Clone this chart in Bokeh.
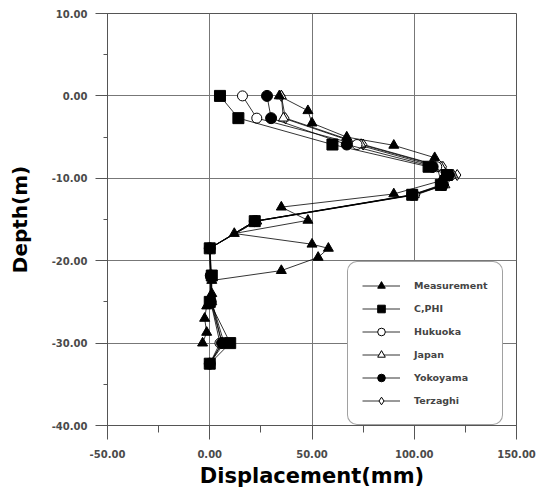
from bokeh.plotting import figure
from bokeh.models import Range1d, SingleIntervalTicker, PrintfTickFormatter, Legend, LegendItem
from bokeh.embed import file_html
from bokeh.resources import INLINE

# Measured profile
meas_depth = [0.0, -1.8, -3.3, -5.0, -6.0, -7.5, -10.3, -11.9, -13.5, -15.1, -16.7,
              -18.0, -18.5, -19.6, -21.2, -22.4, -24.0, -25.5, -27.0, -28.7, -30.0]
meas_disp = [34, 48, 50, 67, 90, 110, 113, 90, 35, 48, 12,
             50, 58, 53, 35, 1, 1, -1.5, -2.5, -1.5, -3.5]

# Computed profiles (common depths)
calc_depth = [0.0, -2.7, -5.9, -8.6, -9.6, -10.8, -12.0, -15.2, -18.5, -21.8, -25.0, -30.0, -32.5]
cphi = [5, 14, 60, 107, 116, 113, 99, 22, 0, 1, 0, 10, 0]
hukuoka = [16, 23, 72, 111, 118, 114, 100, 22, 0, 0.5, 0.5, 5, 0]
japan = [35, 36, 74, 113, 119, 115, 100, 23, 0, 0.5, 1, 6, 0]
yokoyama = [28, 30, 67, 109, 117, 114, 99, 22, 0, 0.5, 0.5, 6, 0]
terzaghi = [35, 37, 75, 114, 121, 115, 101, 23, 0, 0.5, 1, 7, 0]

x_ticks_interval = 50
y_ticks_interval = 10

p = figure(width=538, height=490, x_range=Range1d(-50, 150), y_range=Range1d(-40, 10),
           output_backend="svg", toolbar_location=None,
           min_border_left=107, min_border_right=22, min_border_top=13, min_border_bottom=64)

p.outline_line_color = "#555555"
p.background_fill_color = "white"

for ax, iv in ((p.xaxis, x_ticks_interval), (p.yaxis, y_ticks_interval)):
    ax.ticker = SingleIntervalTicker(interval=iv, num_minor_ticks=2)
    ax.formatter = PrintfTickFormatter(format="%.2f")
    ax.major_label_text_font = "DejaVu Sans"
    ax.major_label_text_font_style = "bold"
    ax.major_label_text_font_size = "10px"
    ax.major_label_text_color = "#4a4a4a"
    ax.axis_line_color = "#555555"
    ax.major_tick_line_color = "#555555"
    ax.minor_tick_line_color = "#555555"
    ax.major_tick_in = 0
    ax.minor_tick_in = 0
    ax.axis_label_text_font = "DejaVu Sans"
    ax.axis_label_text_font_style = "bold"
    ax.axis_label_text_color = "black"

p.xaxis.major_tick_out = 14
p.xaxis.minor_tick_out = 7
p.xaxis.major_label_standoff = 10
p.xaxis.axis_label = "Displacement(mm)"
p.xaxis.axis_label_text_font_size = "21px"
p.xaxis.axis_label_standoff = 3

p.yaxis.major_tick_out = 12
p.yaxis.minor_tick_out = 4
p.yaxis.major_label_standoff = 8
p.yaxis.axis_label = "Depth(m)"
p.yaxis.axis_label_text_font_size = "20px"
p.yaxis.axis_label_standoff = 17

p.grid.grid_line_color = "#777777"
p.grid.grid_line_width = 1

series = [
    ("Terzaghi", terzaghi, calc_depth, "diamond", "white", 11),
    ("Japan", japan, calc_depth, "triangle", "white", 10),
    ("Hukuoka", hukuoka, calc_depth, "circle", "white", 10),
    ("Yokoyama", yokoyama, calc_depth, "circle", "black", 11),
    ("C,PHI", cphi, calc_depth, "square", "black", 11),
    ("Measurement", meas_disp, meas_depth, "triangle", "black", 10),
]
renderers = {}
for name, xs, ys, marker, fill, size in series:
    rl = p.line(xs, ys, line_color="black", line_width=0.8)
    rm = p.scatter(xs, ys, marker=marker, size=size, fill_color=fill,
                   line_color="black", line_width=1)
    renderers[name] = [rl, rm]

order = ["Measurement", "C,PHI", "Hukuoka", "Japan", "Yokoyama", "Terzaghi"]
items = [LegendItem(label=n, renderers=renderers[n]) for n in order]

legend = Legend(items=items, location=(240, 0))
legend.border_line_color = "#444444"
legend.border_line_width = 1
legend.background_fill_color = "white"
legend.background_fill_alpha = 1
legend.label_text_font = "DejaVu Sans"
legend.label_text_font_style = "bold"
legend.label_text_font_size = "9.5px"
legend.glyph_width = 38
legend.glyph_height = 19
legend.label_height = 19
legend.spacing = 4
legend.padding = 14
legend.margin = 0
legend.label_standoff = 14
legend.border_radius = 10
p.add_layout(legend)

open("out.html", "w").write(file_html(p, INLINE))
